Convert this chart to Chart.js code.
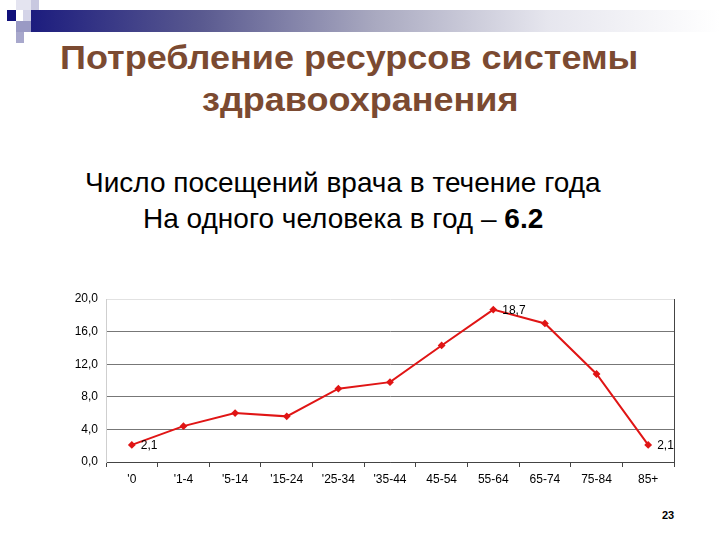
<!DOCTYPE html>
<html>
<head>
<meta charset="utf-8">
<script src="https://cdn.jsdelivr.net/npm/chart.js@4.4.1/dist/chart.umd.min.js"></script>
<style>
  html, body { margin: 0; padding: 0; background: #fff; }
  #page { position: relative; width: 720px; height: 540px; overflow: hidden; font-family: "Liberation Sans", Arial, sans-serif; }
  .txt { position: absolute; white-space: nowrap; line-height: 1; }
  .title { font-size: 34px; font-weight: bold; color: #7b4a31; transform: scaleX(1.06); transform-origin: left top; }
  .sq { position: absolute; }
  #bar { position: absolute; left: 30px; top: 10px; width: 690px; height: 22px;
         background: linear-gradient(to right, #1c1c7e 0%, #5a5a90 25%, #a9a9c0 50%, #e6e6ee 75%, #ffffff 100%); }
  #chartBox { position: absolute; left: 0; top: 0; width: 720px; height: 540px; }
</style>
</head>
<body>
<div id="page">
  <div id="bar"></div>
  <div class="sq" style="left:7px;top:10px;width:9px;height:11px;background:#10107a;"></div>
  <div class="sq" style="left:16px;top:0;width:15px;height:10px;background:#e4e4f0;"></div>
  <div class="sq" style="left:31px;top:0;width:8px;height:10px;background:#c8c8e0;"></div>
  <div class="sq" style="left:23px;top:10px;width:8px;height:11px;background:#d4d4e8;"></div>
  <div class="sq" style="left:16px;top:21px;width:15px;height:11px;background:#9a9ac4;"></div>
  <div class="sq" style="left:16px;top:32px;width:8px;height:11px;background:#a8a8cc;"></div>

  <div class="txt title" style="left:60px;top:40px;">Потребление ресурсов системы</div>
  <div class="txt title" style="left:202px;top:82px;">здравоохранения</div>
  <div class="txt" style="left:85px;top:169px;font-size:28px;color:#000;">Число посещений врача в течение года</div>
  <div class="txt" style="left:143px;top:205px;font-size:28px;color:#000;">На одного человека в год – <b>6.2</b></div>
  <div class="txt" style="left:662px;top:510px;font-size:11px;font-weight:bold;color:#000;">23</div>

  <div id="chartBox"><canvas id="visitsChart" width="720" height="540"></canvas></div>
</div>

<script>
const AGE_GROUPS = ["'0", "'1-4", "'5-14", "'15-24", "'25-34", "'35-44", "45-54", "55-64", "65-74", "75-84", "85+"];
const VISITS = [2.1, 4.4, 6.0, 5.6, 9.0, 9.8, 14.3, 18.7, 17.0, 10.8, 2.1];
const Y_TICKS = [0, 4, 8, 12, 16, 20];
const LABELED_POINTS = [0, 7, 10];

// ==============================
// VALUE LABELS (2,1 / 18,7 / 2,1)
// ==============================
const valueLabels = {
  id: "valueLabels",
  afterDatasetsDraw(chart) {
    const ctx = chart.ctx;
    const meta = chart.getDatasetMeta(0);
    ctx.save();
    ctx.font = "12px 'Liberation Sans', Arial, sans-serif";
    ctx.fillStyle = "#000";
    ctx.textBaseline = "middle";
    ctx.textAlign = "left";
    LABELED_POINTS.forEach(i => {
      const p = meta.data[i];
      ctx.fillText(VISITS[i].toFixed(1).replace(".", ","), p.x + 9, p.y + 1);
    });
    ctx.restore();
  }
};

const ctx = document.getElementById("visitsChart").getContext("2d");

new Chart(ctx, {
  type: "line",
  data: {
    labels: AGE_GROUPS,
    datasets: [
      {
        label: "Visits",
        data: VISITS,
        borderColor: "#e01515",
        backgroundColor: "#e01515",
        borderWidth: 2,
        pointStyle: "rectRot",
        pointRadius: 2.5,
        tension: 0,
        fill: false
      }
    ]
  },
  options: {
    responsive: false,
    animation: false,
    layout: {
      autoPadding: false,
      padding: { left: 50, right: 30, top: 299, bottom: 48 }
    },
    plugins: {
      legend: { display: false },
      tooltip: { enabled: false }
    },
    scales: {
      x: {
        offset: true,
        afterFit: s => { s.height = 30; },
        grid: { offset: true, drawOnChartArea: false, color: "#444", tickLength: 5 },
        border: { color: "#444", width: 1 },
        ticks: {
          color: "#000",
          padding: 5,
          maxRotation: 0,
          autoSkip: false,
          font: { family: "'Liberation Sans', Arial, sans-serif", size: 12 }
        }
      },
      y: {
        min: 0,
        max: 20,
        afterFit: s => { s.width = 56; },
        afterBuildTicks: s => { s.ticks = Y_TICKS.map(v => ({ value: v })); },
        grid: {
          drawTicks: false,
          color: c => (c.tick && c.tick.value === 20 ? "#e2e2e2" : "#777"),
          lineWidth: 1
        },
        border: { color: "#cfcfcf", width: 1 },
        ticks: {
          color: "#000",
          padding: 8,
          callback: v => v.toFixed(1).replace(".", ","),
          font: { family: "'Liberation Sans', Arial, sans-serif", size: 12 }
        }
      },
      y2: {
        position: "right",
        min: 0,
        max: 20,
        afterFit: s => { s.width = 16; },
        grid: { drawOnChartArea: false, drawTicks: false },
        border: { color: "#444", width: 1 },
        ticks: { display: false }
      }
    }
  },
  plugins: [valueLabels]
});
</script>
</body>
</html>
